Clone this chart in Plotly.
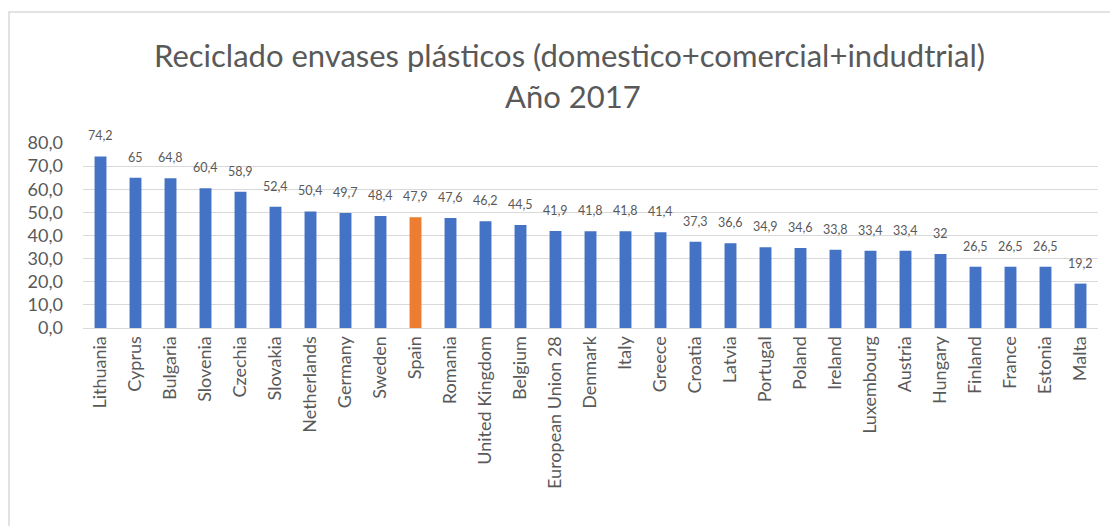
import plotly.graph_objects as go

countries = [
    "Lithuania", "Cyprus", "Bulgaria", "Slovenia", "Czechia", "Slovakia",
    "Netherlands", "Germany", "Sweden", "Spain", "Romania", "United Kingdom",
    "Belgium", "European Union 28", "Denmark", "Italy", "Greece", "Croatia",
    "Latvia", "Portugal", "Poland", "Ireland", "Luxembourg", "Austria",
    "Hungary", "Finland", "France", "Estonia", "Malta",
]
recycling_rate = [
    74.2, 65, 64.8, 60.4, 58.9, 52.4, 50.4, 49.7, 48.4, 47.9, 47.6, 46.2,
    44.5, 41.9, 41.8, 41.8, 41.4, 37.3, 36.6, 34.9, 34.6, 33.8, 33.4, 33.4,
    32, 26.5, 26.5, 26.5, 19.2,
]
highlight = "Spain"

BLUE = "#4472C4"
ORANGE = "#ED7D31"
GREY_TEXT = "#595959"
GRID = "#D9D9D9"
FONT = "Lato"

colors = [ORANGE if c == highlight else BLUE for c in countries]
labels = [f"{v:g}".replace(".", ",") for v in recycling_rate]

fig = go.Figure(
    go.Bar(
        x=countries,
        y=recycling_rate,
        marker=dict(color=colors, line=dict(width=0)),
        cliponaxis=False,
    )
)

W, H = 1110, 526
L, R, T, B = 83, 12, 143, 198
plot_h = H - T - B
plot_w = W - L - R


def py(y_px):
    return (H - B - y_px) / plot_h


def px(x_px):
    return (x_px - L) / plot_w


# value labels sitting above each bar
value_labels = [
    dict(
        text=t, x=c, y=v, xref="x", yref="y",
        xanchor="center", yanchor="bottom", yshift=11, showarrow=False,
        font=dict(family=FONT, size=12.5, color=GREY_TEXT),
    )
    for c, v, t in zip(countries, recycling_rate, labels)
]

titles = [
    dict(
        text="Reciclado envases plásticos (domestico+comercial+indudtrial)",
        xref="paper", yref="paper", x=px(569), y=py(55),
        xanchor="center", yanchor="middle", showarrow=False,
        font=dict(family=FONT, size=31, color=GREY_TEXT),
    ),
    dict(
        text="Año 2017",
        xref="paper", yref="paper", x=px(573), y=py(96),
        xanchor="center", yanchor="middle", showarrow=False,
        font=dict(family=FONT, size=31, color=GREY_TEXT),
    ),
]

fig.update_layout(
    width=W,
    height=H,
    margin=dict(l=L, r=R, t=T, b=B, pad=0),
    paper_bgcolor="white",
    plot_bgcolor="white",
    separators=", ",
    showlegend=False,
    bargap=0.66,
    font=dict(family=FONT, color=GREY_TEXT),
    xaxis=dict(
        tickangle=-90,
        tickfont=dict(family=FONT, size=18, color=GREY_TEXT),
        showgrid=False,
        showline=True,
        linecolor=GRID,
        ticks="",
    ),
    yaxis=dict(
        range=[0, 80],
        dtick=10,
        tickformat=".1f",
        tickfont=dict(family=FONT, size=18, color=GREY_TEXT),
        showgrid=True,
        gridcolor=GRID,
        gridwidth=1,
        zeroline=False,
        showline=False,
        ticks="",
        ticklabelstandoff=19,
    ),
    annotations=titles + value_labels,
    shapes=[
        dict(
            type="rect", xref="paper", yref="paper",
            x0=px(9), x1=px(1125), y0=py(545), y1=py(12),
            line=dict(color=GRID, width=1.5), fillcolor="rgba(0,0,0,0)",
            layer="below",
        )
    ],
)

fig.write_html("out.html")
